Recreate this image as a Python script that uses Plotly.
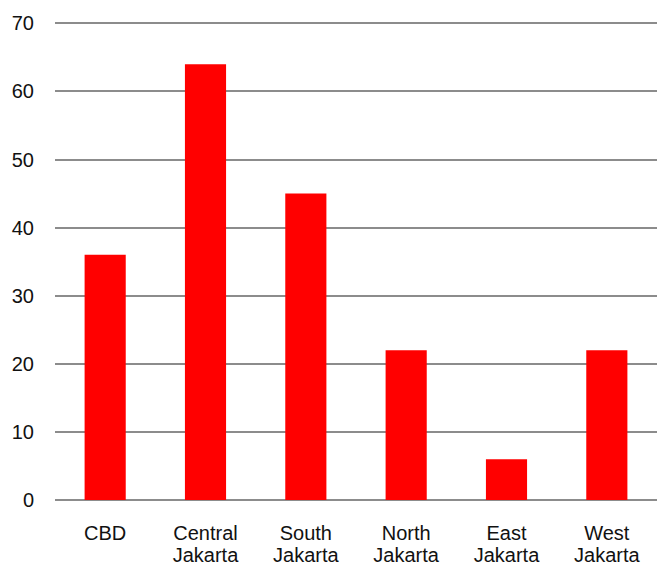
import plotly.graph_objects as go

categories = ["CBD", "Central Jakarta", "South Jakarta", "North Jakarta", "East Jakarta", "West Jakarta"]
label_line1 = ["CBD", "Central", "South", "North", "East", "West"]
label_line2 = ["", "Jakarta", "Jakarta", "Jakarta", "Jakarta", "Jakarta"]
values = [36, 64, 45, 22, 6, 22]
y_ticks = [0, 10, 20, 30, 40, 50, 60, 70]

fig = go.Figure(go.Bar(x=categories, y=values, marker=dict(color="#FF0000", line=dict(width=0)),
                       hoverinfo="x+y"))

font_family = "Liberation Sans, Arial, sans-serif"
fig.update_layout(
    width=657, height=567,
    margin=dict(l=55, r=0, t=22, b=67),
    paper_bgcolor="white", plot_bgcolor="white",
    bargap=0.59,
    showlegend=False,
    font=dict(family=font_family, size=20, color="#111111"),
    xaxis=dict(
        type="category", range=[-0.5, len(categories) - 0.5],
        tickmode="array", tickvals=categories, ticktext=label_line1,
        showgrid=False, showline=False, zeroline=False, automargin=False,
        ticklabelstandoff=19, tickfont=dict(size=20),
    ),
    xaxis2=dict(
        overlaying="x", side="bottom", type="linear",
        range=[-0.5, len(categories) - 0.5],
        tickmode="array", tickvals=list(range(len(categories))), ticktext=label_line2,
        showgrid=False, showline=False, zeroline=False, automargin=False,
        ticklabelstandoff=41, tickfont=dict(size=20),
    ),
    yaxis=dict(
        range=[0, 70.2], tickmode="array", tickvals=y_ticks,
        showgrid=True, gridcolor="#8c8c8c", gridwidth=1.6,
        zeroline=True, zerolinecolor="#8c8c8c", zerolinewidth=1.6,
        showline=False, automargin=False, ticklabelstandoff=20,
        tickfont=dict(size=20),
    ),
)
# invisible helper trace so the second-line label axis is rendered
fig.add_trace(go.Scatter(x=[], y=[], xaxis="x2", yaxis="y", showlegend=False, hoverinfo="skip"))
fig.write_html("out.html")
